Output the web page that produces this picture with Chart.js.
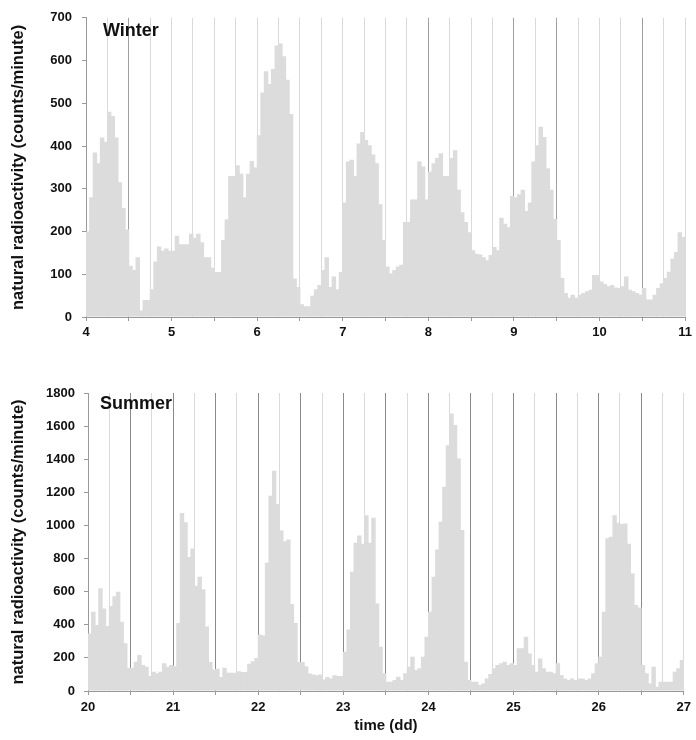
<!DOCTYPE html>
<html>
<head>
<meta charset="utf-8">
<script src="https://cdn.jsdelivr.net/npm/chart.js@4/dist/chart.umd.min.js"></script>
<style>
  body { margin:0; background:#fff; width:696px; height:740px; position:relative; overflow:hidden; }
  .box { position:absolute; left:0; width:696px; }
  #winterBox { top:0; height:345px; }
  #summerBox { top:370px; height:370px; }
</style>
</head>
<body>
<div class="box" id="winterBox"><canvas id="winter"></canvas></div>
<div class="box" id="summerBox"><canvas id="summer"></canvas></div>
<script>
// hourly counts/minute, one row per day
const winterStartDay = 4, winterEndDay = 11;
const winterCounts = [
  200,280,385,360,420,410,480,470,420,315,255,205,120,110,140,15,40,40,65,130,165,155,160,155,   // 4
  155,190,170,170,170,195,185,195,175,140,140,115,105,105,180,228,330,330,355,335,280,335,365,350, // 5
  425,525,575,545,580,635,640,610,555,475,90,70,30,25,25,50,65,75,110,140,70,95,65,105,           // 6
  268,364,368,330,406,433,414,402,380,360,264,180,118,102,110,118,122,222,222,275,275,364,352,275, // 7
  340,360,372,383,330,330,372,390,298,245,222,198,156,148,146,140,133,145,164,156,232,218,210,283, // 8
  280,287,298,248,268,364,402,445,421,348,298,229,180,91,56,45,52,45,52,56,60,64,98,98,            // 9
  83,77,72,75,69,68,72,95,64,60,56,52,68,41,41,52,68,79,91,106,137,152,198,187                     // 10
];
const summerStartDay = 20, summerEndDay = 27;
const summerCounts = [
  348,479,398,620,499,392,513,573,600,418,288,141,141,177,217,157,147,91,117,107,117,167,147,157,          // 20
  150,410,1075,1020,810,860,635,690,615,390,175,130,135,85,140,110,110,110,120,115,115,165,180,200,        // 21
  340,335,775,1180,1330,1130,970,905,915,525,410,175,175,150,105,100,95,100,70,85,75,95,90,90,             // 22
  237,372,720,895,940,890,1062,895,1046,529,268,107,56,56,66,86,66,107,147,207,127,137,207,328,            // 23
  479,690,855,1022,1233,1485,1676,1606,1405,972,177,66,56,56,36,46,76,103,137,157,167,177,157,167,         // 24
  157,258,258,328,227,157,117,197,137,117,117,107,167,97,76,66,76,66,76,76,66,76,107,167,                  // 25
  207,479,922,932,1062,1016,1008,1012,890,710,519,505,157,107,46,147,26,56,56,56,56,117,137,187            // 26
];
// darker vertical lines
const winterDarkLines = [4.5, 8, 9, 9.5, 10.5];
const summerDarkLines = [20.5, 21, 21.5, 22, 22.5, 23, 23.5, 24, 24.5, 25, 25.5, 26, 26.5];

const FONT = "'Liberation Sans', Arial, sans-serif";
const barColor = '#dcdcdc';

const labelPlugin = {
  id: 'panelLabel',
  afterDraw(chart) {
    const t = chart.options.plugins.panelLabel;
    if (!t) return;
    const {ctx, chartArea} = chart;
    ctx.save();
    ctx.font = `bold 18px ${FONT}`;
    ctx.fillStyle = '#111';
    ctx.textBaseline = 'middle';
    ctx.fillText(t.text, chartArea.left + t.dx, chartArea.top + t.dy);
    ctx.restore();
  }
};

function makeChart(id, startDay, endDay, counts, yMax, yStep, darkLines, cfg) {
  const points = counts.map((v, i) => ({ x: startDay + (i + 0.5) / 24, y: v }));
  return new Chart(document.getElementById(id), {
    type: 'bar',
    data: { datasets: [{ data: points, backgroundColor: barColor, borderWidth: 0,
      barPercentage: 1.25, categoryPercentage: 1 }] },
    plugins: [labelPlugin],
    options: {
      responsive: true, maintainAspectRatio: false, animation: false,
      layout: { padding: { left: 0, right: cfg.padRight, top: cfg.padTop, bottom: 0 } },
      plugins: { legend: { display: false }, tooltip: { enabled: false },
        panelLabel: { text: cfg.label, dx: cfg.labelDx, dy: cfg.labelDy } },
      scales: {
        x: {
          type: 'linear', min: startDay, max: endDay, offset: false,
          afterFit: s => { s.height = cfg.xHeight; },
          border: { color: '#999', width: 1 },
          grid: {
            offset: false, tickLength: 4, lineWidth: 1,
            color: c => darkLines.includes(c.tick.value) ? cfg.darkColor : '#dadada',
            tickColor: c => (c.tick.value * 2) % 1 === 0 ? '#999' : 'rgba(0,0,0,0)'
          },
          ticks: {
            stepSize: 0.25, autoSkip: false, maxRotation: 0, padding: cfg.xPad,
            color: '#111', font: { family: FONT, size: 13, weight: 'bold' },
            callback: v => Number.isInteger(v) ? v : ''
          },
          title: cfg.xTitle ? { display: true, text: cfg.xTitle, color: '#111',
            font: { family: FONT, size: 15, weight: 'bold' }, padding: { top: 0, bottom: 5 } } : { display: false }
        },
        y: {
          min: 0, max: yMax,
          afterFit: s => { s.width = cfg.yWidth; },
          border: { color: '#999', width: 1 },
          grid: { drawOnChartArea: false, tickLength: 4, tickColor: '#999' },
          ticks: { stepSize: yStep, padding: cfg.yPad, color: '#111',
            font: { family: FONT, size: 13, weight: 'bold' }, callback: v => String(v) },
          title: { display: true, text: 'natural radioactivity (counts/minute)', color: '#111',
            font: { family: FONT, size: 16.5, weight: 'bold' }, padding: { top: 9, bottom: 0 } }
        }
      }
    }
  });
}

makeChart('winter', winterStartDay, winterEndDay, winterCounts, 700, 100, winterDarkLines, {
  padRight: 7, padTop: 12, xHeight: 28, yWidth: 86, xPad: 4, yPad: 10,
  darkColor: '#a0a0a0', label: 'Winter', labelDx: 17, labelDy: 13
});
makeChart('summer', summerStartDay, summerEndDay, summerCounts, 1800, 200, summerDarkLines, {
  padRight: 11, padTop: 23, xHeight: 49, yWidth: 88, xPad: 5, yPad: 9,
  darkColor: '#8a8a8a', label: 'Summer', labelDx: 12, labelDy: 11, xTitle: 'time (dd)'
});
</script>
</body>
</html>
